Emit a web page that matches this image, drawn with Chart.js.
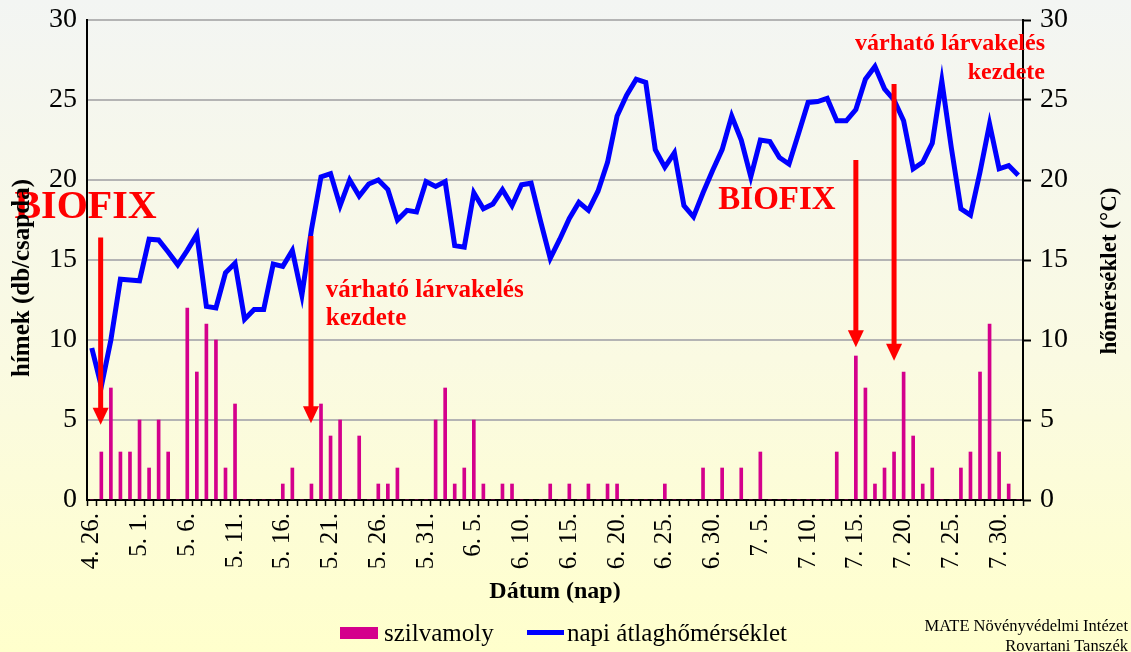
<!DOCTYPE html>
<html>
<head>
<meta charset="utf-8">
<script src="https://cdn.jsdelivr.net/npm/chart.js@4/dist/chart.umd.min.js"></script>
<style>
  html, body { margin: 0; padding: 0; }
  body {
    width: 1131px; height: 652px; overflow: hidden; position: relative;
    background: linear-gradient(to bottom, #f3f5f3 0%, #fafae2 55%, #ffffcc 100%);
    font-family: "Liberation Serif", "Times New Roman", serif; color: #000;
  }
  #chart { position: absolute; left: 0; top: 0; }
  .sw { position: absolute; }
  .lt { position: absolute; font-size: 25px; line-height: 24px; white-space: nowrap; }
  #credit { position: absolute; right: 3px; top: 616px; font-size: 16.5px; line-height: 20px; text-align: right; }
</style>
</head>
<body>
<canvas id="chart" width="1131" height="652"></canvas>
<span class="sw" style="left:340px;top:627px;width:38px;height:12px;background:#d4008c"></span>
<span class="lt" style="left:384px;top:621px">szilvamoly</span>
<span class="sw" style="left:527px;top:630px;width:37px;height:5px;background:#0000ff"></span>
<span class="lt" style="left:567px;top:621px">napi átlaghőmérséklet</span>
<div id="credit">MATE Növényvédelmi Intézet<br>Rovartani Tanszék</div>
<script>
// napok: [hónap, első nap, utolsó nap]
const honapok = [[4, 26, 30], [5, 1, 31], [6, 1, 30], [7, 1, 31], [8, 1, 1]];

// szilvamoly fogás (db/csapda), naponta
const molyApr = [0, 3, 7, 3, 3];
const molyMaj = [5, 2, 5, 3, 0, 12, 8, 11, 10, 2, 6, 0, 0, 0, 0, 1, 2, 0, 1, 6, 4, 5, 0, 4, 0, 1, 1, 2, 0, 0, 0];
const molyJun = [5, 7, 1, 2, 5, 1, 0, 1, 1, 0, 0, 0, 1, 0, 1, 0, 1, 0, 1, 1, 0, 0, 0, 0, 1, 0, 0, 0, 2, 0];
const molyJul = [2, 0, 2, 0, 3, 0, 0, 0, 0, 0, 0, 0, 3, 0, 9, 7, 1, 2, 3, 8, 4, 1, 2, 0, 0, 2, 3, 8, 11, 3, 1];
const molyAug = [0];

// napi átlaghőmérséklet (°C)
const homApr = [9.5, 7.1, 10.0, 13.8, 13.75];
const homMaj = [13.7, 16.3, 16.25, 15.5, 14.7, 15.6, 16.6, 12.1, 12.0, 14.2, 14.8, 11.3, 11.9, 11.9, 14.75, 14.6,
                15.6, 12.8, 16.9, 20.2, 20.4, 18.4, 20.0, 19.0, 19.75, 20.0, 19.4, 17.5, 18.1, 18.0, 19.9];
const homJun = [19.6, 19.9, 15.9, 15.8, 19.2, 18.2, 18.5, 19.4, 18.4, 19.7, 19.8, 17.4, 15.1, 16.3, 17.6,
                18.6, 18.1, 19.3, 21.1, 24.0, 25.3, 26.3, 26.1, 21.9, 20.8, 21.7, 18.4, 17.7, 19.2, 20.6];
const homJul = [21.9, 24.0, 22.5, 20.2, 22.5, 22.4, 21.4, 21.0, 22.9, 24.85, 24.9, 25.1, 23.7, 23.7, 24.4, 26.3,
                27.1, 25.7, 25.0, 23.7, 20.7, 21.1, 22.3, 26.2, 22.0, 18.2, 17.8, 20.5, 23.5, 20.7, 20.9];
const homAug = [20.3];

const yTicks = [0, 5, 10, 15, 20, 25, 30];

const labels = [];
honapok.forEach(([h, tol, ig]) => {
    for (let d = tol; d <= ig; d++) labels.push(h + '. ' + d + '.');
});
const moly = [...molyApr, ...molyMaj, ...molyJun, ...molyJul, ...molyAug];
const hom = [...homApr, ...homMaj, ...homJun, ...homJul, ...homAug];

// nyilak: [kategória index, kezdő érték, csúcs érték]
const nyilak = [[0.93, 16.4, 4.7], [22.95, 16.5, 4.8], [80.0, 21.25, 9.55], [84.0, 26.0, 8.7]];
const feliratok = [
    {text: 'BIOFIX', i: -8.1, v: 18.3, size: 40, align: 'left'},
    {text: 'várható lárvakelés', i: 24.5, v: 13.1, size: 25, align: 'left'},
    {text: 'kezdete', i: 24.5, v: 11.35, size: 25, align: 'left'},
    {text: 'BIOFIX', i: 65.6, v: 18.75, size: 33, align: 'left'},
    {text: 'várható lárvakelés', i: 99.8, v: 28.5, size: 24, align: 'right'},
    {text: 'kezdete', i: 99.8, v: 26.7, size: 24, align: 'right'}
];

const serif = '"Liberation Serif", "Times New Roman", serif';

const jelolesek = {
    id: 'jelolesek',
    afterDatasetsDraw(chart) {
        const {ctx, scales: {x, y}} = chart;
        ctx.save();
        ctx.fillStyle = '#ff0000';
        ctx.strokeStyle = '#ff0000';
        nyilak.forEach(([i, tol, ig]) => {
            const px = x.getPixelForValue(i);
            const y0 = y.getPixelForValue(tol);
            const y1 = y.getPixelForValue(ig);
            ctx.lineWidth = 5;
            ctx.beginPath();
            ctx.moveTo(px, y0);
            ctx.lineTo(px, y1 - 14);
            ctx.stroke();
            ctx.beginPath();
            ctx.moveTo(px - 8, y1 - 17);
            ctx.lineTo(px + 8, y1 - 17);
            ctx.lineTo(px, y1);
            ctx.closePath();
            ctx.fill();
        });
        ctx.textBaseline = 'middle';
        feliratok.forEach(f => {
            ctx.font = 'bold ' + f.size + 'px ' + serif;
            ctx.textAlign = f.align;
            ctx.fillText(f.text, x.getPixelForValue(f.i), y.getPixelForValue(f.v));
        });
        ctx.restore();
    },
    afterDraw(chart) {
        const ctx = chart.ctx;
        ctx.save();
        ctx.fillStyle = '#000';
        ctx.textAlign = 'center';
        ctx.textBaseline = 'middle';
        [['hímek (db/csapda)', 23, 278, 25], ['hőmérséklet (°C)', 1110, 271, 23]].forEach(([t, tx, ty, fs]) => {
            ctx.save();
            ctx.font = 'bold ' + fs + 'px ' + serif;
            ctx.translate(tx, ty);
            ctx.rotate(-Math.PI / 2);
            ctx.fillText(t, 0, 0);
            ctx.restore();
        });
        ctx.restore();
    }
};

// a tengelyek fix méretűek legyenek, a címkék ne tolják el a rajzterületet
const fixY = w => s => { s.width = w; s.paddingTop = 0; s.paddingBottom = 0; };

new Chart(document.getElementById('chart'), {
    data: {
        labels: labels,
        datasets: [
            {
                type: 'line',
                label: 'napi átlaghőmérséklet',
                data: hom,
                yAxisID: 'y1',
                borderColor: '#0000ff',
                borderWidth: 5,
                pointRadius: 0,
                tension: 0,
                borderJoinStyle: 'miter'
            },
            {
                type: 'bar',
                label: 'szilvamoly',
                data: moly,
                yAxisID: 'y',
                backgroundColor: '#d4008c',
                barThickness: 3
            }
        ]
    },
    options: {
        responsive: false,
        animation: false,
        layout: {padding: {top: 20, bottom: 42, left: 0, right: 0}},
        plugins: {legend: {display: false}, tooltip: {enabled: false}},
        scales: {
            x: {
                offset: true,
                afterFit: s => { s.height = 110; s.paddingLeft = 0; s.paddingRight = 0; },
                border: {color: '#000', width: 2},
                grid: {offset: true, drawOnChartArea: false, tickLength: 6, tickColor: '#000', tickWidth: 1.5},
                ticks: {
                    autoSkip: false, minRotation: 90, maxRotation: 90, padding: 7,
                    color: '#000', font: {family: serif, size: 25},
                    callback: (v, i) => i % 5 === 0 ? labels[i] : ''
                },
                title: {display: true, text: 'Dátum (nap)', color: '#000',
                        font: {family: serif, size: 24, weight: 'bold'}, padding: {top: 0, bottom: 4}}
            },
            y: {
                position: 'left', min: 0, max: 30,
                afterFit: fixY(87),
                afterBuildTicks: s => { s.ticks = yTicks.map(v => ({value: v})); },
                border: {color: '#000', width: 2},
                grid: {color: '#b4b4b4', lineWidth: 2, drawTicks: false},
                ticks: {padding: 10, color: '#000', font: {family: serif, size: 28}}
            },
            y1: {
                position: 'right', min: 0, max: 30,
                afterFit: fixY(108),
                afterBuildTicks: s => { s.ticks = yTicks.map(v => ({value: v})); },
                border: {color: '#000', width: 2},
                grid: {drawOnChartArea: false, tickLength: 8, tickColor: '#000', tickWidth: 2},
                ticks: {padding: 9, color: '#000', font: {family: serif, size: 28}}
            }
        }
    },
    plugins: [jelolesek]
});
</script>
</body>
</html>
